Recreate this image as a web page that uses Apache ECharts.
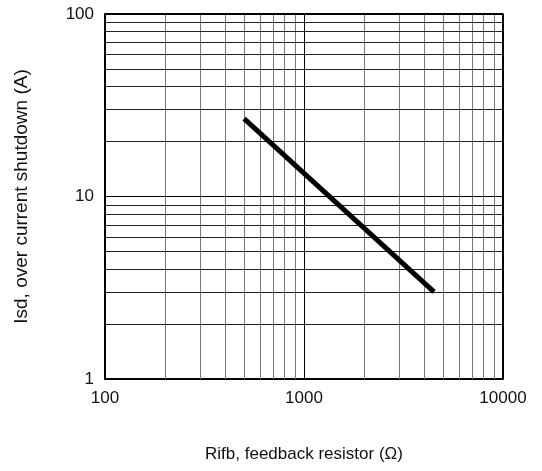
<!DOCTYPE html>
<html><head><meta charset="utf-8">
<script src="https://cdn.jsdelivr.net/npm/echarts@6/dist/echarts.min.js"></script>
<style>html,body{margin:0;padding:0;background:#fff}#c{width:542px;height:471px}</style>
</head><body><div id="c"></div>
<script>
const rifb = [500, 4500];
const isd = [26.7, 3.0];
const xMinorGrid = [200,300,400,500,600,700,800,900,2000,3000,4000,5000,6000,7000,8000,9000];
const yMinorGrid = [2,3,4,5,6,7,8,9,20,30,40,50,60,70,80,90];
const xMajorGrid = [1000];
const yMajorGrid = [10];

const chart = echarts.init(document.getElementById('c'));
const lines = [];
xMinorGrid.forEach(v => lines.push({xAxis: v, lineStyle: {color: '#777', width: 1, type: 'solid'}}));
yMinorGrid.forEach(v => lines.push({yAxis: v, lineStyle: {color: '#222', width: 1, type: 'solid'}}));
xMajorGrid.forEach(v => lines.push({xAxis: v, lineStyle: {color: '#000', width: 1, type: 'solid'}}));
yMajorGrid.forEach(v => lines.push({yAxis: v, lineStyle: {color: '#000', width: 1, type: 'solid'}}));
const font = 'Liberation Sans, Arial, sans-serif';
chart.setOption({
  animation: false,
  grid: {left: 105, top: 14, right: 39, bottom: 92},
  xAxis: {
    type: 'log', logBase: 10, min: 100, max: 10000,
    name: 'Rifb, feedback resistor (Ω)', nameLocation: 'middle', nameGap: 67,
    nameTextStyle: {fontFamily: font, fontSize: 17, color: '#111'},
    axisLine: {show: true, onZero: false, lineStyle: {color: '#000', width: 2}},
    axisTick: {show: false},
    axisLabel: {fontFamily: font, fontSize: 17, color: '#111', margin: 11, formatter: v => String(v)},
    splitLine: {show: false}
  },
  yAxis: {
    type: 'log', logBase: 10, min: 1, max: 100,
    name: 'Isd, over current shutdown (A)', nameLocation: 'middle', nameGap: 74,
    nameTextStyle: {fontFamily: font, fontSize: 19, color: '#111'},
    axisLine: {show: true, onZero: false, lineStyle: {color: '#000', width: 2}},
    axisTick: {show: false},
    axisLabel: {fontFamily: font, fontSize: 17, color: '#111', margin: 11, formatter: v => String(v)},
    splitLine: {show: false}
  },
  series: [
    {
      type: 'line', data: [[100, 1]], symbol: 'none', lineStyle: {width: 0},
      silent: true,
      markLine: {silent: true, symbol: 'none', label: {show: false}, animation: false, data: lines}
    },
    {
      type: 'line', data: rifb.map((x, i) => [x, isd[i]]), symbol: 'none',
      lineStyle: {color: '#000', width: 5}, z: 5
    },
    {
      type: 'line', data: [[100,100],[10000,100],[10000,1]], symbol: 'none', silent: true,
      lineStyle: {color: '#000', width: 2}, z: 6
    }
  ]
});
</script></body></html>
